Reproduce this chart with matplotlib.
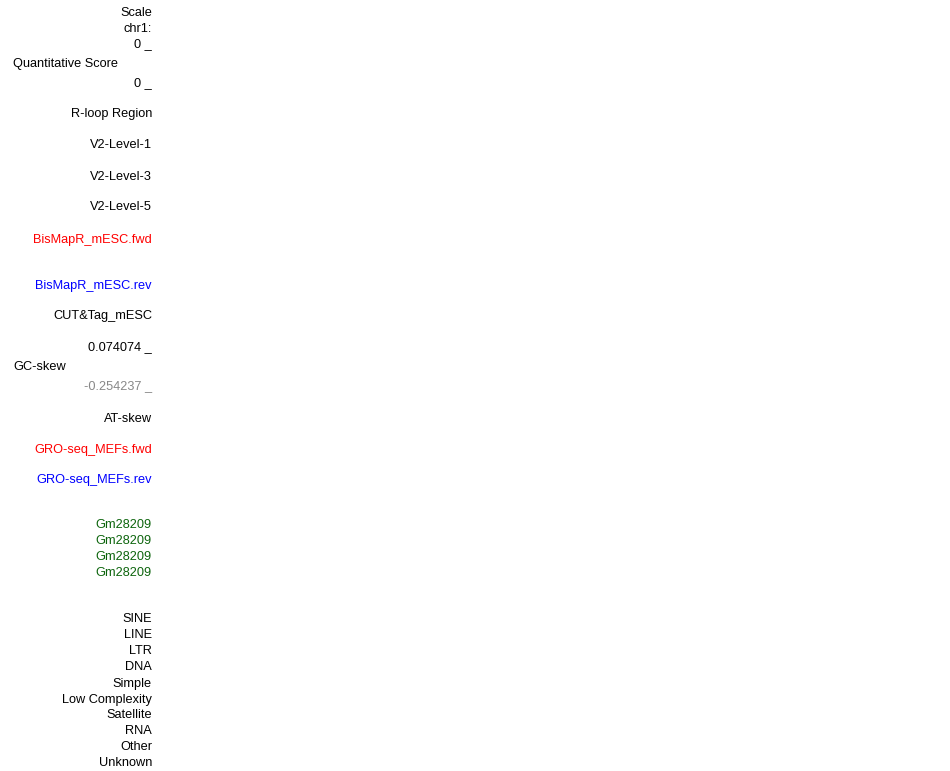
import matplotlib
matplotlib.use("Agg")
from matplotlib import pyplot as plt

# track labels on the left of a genome browser view
labels = ["Scale", "chr1:", "0 _", "Quantitative Score", "0 _", "R-loop Region",
          "V2-Level-1", "V2-Level-3", "V2-Level-5", "BisMapR_mESC.fwd",
          "BisMapR_mESC.rev", "CUT&Tag_mESC", "0.074074 _", "GC-skew",
          "-0.254237 _", "AT-skew", "GRO-seq_MEFs.fwd", "GRO-seq_MEFs.rev",
          "Gm28209", "Gm28209", "Gm28209", "Gm28209",
          "SINE", "LINE", "LTR", "DNA", "Simple", "Low Complexity",
          "Satellite", "RNA", "Other", "Unknown"]
rows = [11, 27, 43, 62, 82, 113, 144, 175, 206, 238, 284, 315, 346, 365,
        385, 417, 448, 479, 524, 540, 556, 572,
        618, 634, 650, 666, 682, 698, 714, 730, 746, 762]
kinds = ["k", "k", "k", "left", "k", "k", "k", "k", "k", "red",
         "blue", "k", "k", "left", "gray", "k", "red", "blue",
         "green", "green", "green", "green",
         "k", "k", "k", "k", "k", "k", "k", "k", "k", "k"]

colours = {"k": "black", "left": "black", "red": "#ff0000", "blue": "#0000ff",
           "green": "#0c640c", "gray": "#888888"}

fig = plt.figure(figsize=(9.5, 7.71), dpi=100)
ax = fig.add_axes([0, 0, 1, 1])
ax.set_xlim(0, 950)
ax.set_ylim(771, 0)
ax.axis("off")

for txt, y, k in zip(labels, rows, kinds):
    if k == "left":
        ax.text(13, y + 1.5, txt, ha="left", va="center", color=colours[k],
                fontsize=9.2, family="Liberation Sans")
    else:
        ax.text(152, y + 1.5, txt, ha="right", va="center", color=colours[k],
                fontsize=9.2, family="Liberation Sans")

fig.savefig("out.png", dpi=100, facecolor="white")
